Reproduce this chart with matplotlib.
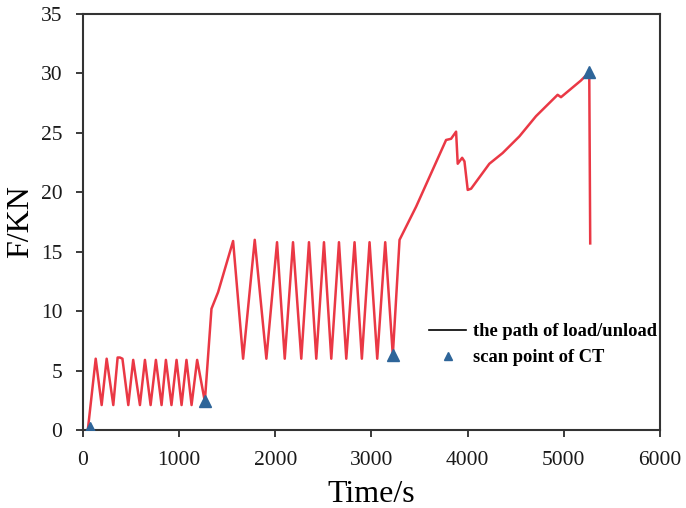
import matplotlib.pyplot as plt

# load/unload path
time_s = [50, 132, 194, 246, 315, 360, 384, 410, 471, 522, 592, 644, 703, 758, 817, 862,
          920, 973, 1025, 1076, 1129, 1187, 1267,
          1336, 1405, 1561, 1665, 1786, 1907, 2018, 2098, 2184, 2270, 2350, 2426, 2506,
          2582, 2662, 2738, 2824, 2900, 2980, 3060, 3143, 3222,
          3292, 3465, 3776, 3828, 3880, 3897, 3943, 3967, 4001, 4036, 4226, 4364, 4538,
          4711, 4936, 4971, 5178, 5265, 5275]
force_kn = [0.0, 6.0, 2.1, 6.0, 2.1, 6.1, 6.1, 6.0, 2.1, 5.9, 2.1, 5.9, 2.1, 5.9, 2.1, 5.9,
            2.1, 5.9, 2.1, 5.9, 2.1, 5.9, 2.4,
            10.2, 11.6, 15.9, 6.0, 16.0, 6.0, 15.8, 6.0, 15.8, 6.0, 15.8, 6.0, 15.8,
            6.0, 15.8, 6.0, 15.8, 6.0, 15.8, 6.0, 15.8, 6.3,
            16.0, 18.8, 24.4, 24.5, 25.1, 22.4, 22.9, 22.6, 20.2, 20.3, 22.4, 23.3, 24.7,
            26.4, 28.2, 28.0, 29.4, 30.1, 15.7]

# CT scan points
scan_t = [70, 1267, 3222, 5265]
scan_f = [0.2, 2.4, 6.3, 30.1]

plt.rcParams['font.family'] = ['Liberation Serif', 'DejaVu Serif']

fig = plt.figure(figsize=(6.86, 5.08), dpi=100)
ax = fig.add_axes([0.121, 0.1535, 0.841, 0.819])

ax.plot(time_s, force_kn, color='#ea3845', lw=1.8, solid_joinstyle='round')
ax.plot(scan_t, scan_f, '^', color='#2e6599', ms=8, zorder=3)

# legend entries: black line sample and blue triangle
ax.plot([], [], color='black', lw=1.2, label='the path of load/unload')
ax.plot([], [], '^', color='#2e6599', ms=6, label='scan point of CT')
h, l = ax.get_legend_handles_labels()
ax.legend(h[-2:], l[-2:], loc='upper left', bbox_to_anchor=(0.6, 0.257), frameon=False,
          borderaxespad=0, borderpad=0,
          prop={'weight': 'bold', 'size': 13.3}, handlelength=2.0, handletextpad=0.35,
          labelspacing=0.5)

ax.set_xlim(0, 6000)
ax.set_ylim(0, 35)
ax.set_xticks(range(0, 6001, 1000))
ax.set_yticks(range(0, 36, 5))
ax.tick_params(direction='out', length=5, width=1.2, labelsize=15.5, colors='#1a1a1a')
ax.tick_params(axis='x', pad=10)
ax.tick_params(axis='y', pad=10)
for s in ax.spines.values():
    s.set_linewidth(1.5)
    s.set_color('#333333')

ax.set_xlabel('Time/s', fontsize=23, labelpad=7)
ax.set_ylabel('F/KN', fontsize=23, labelpad=4)

plt.savefig('out.png', dpi=100)
